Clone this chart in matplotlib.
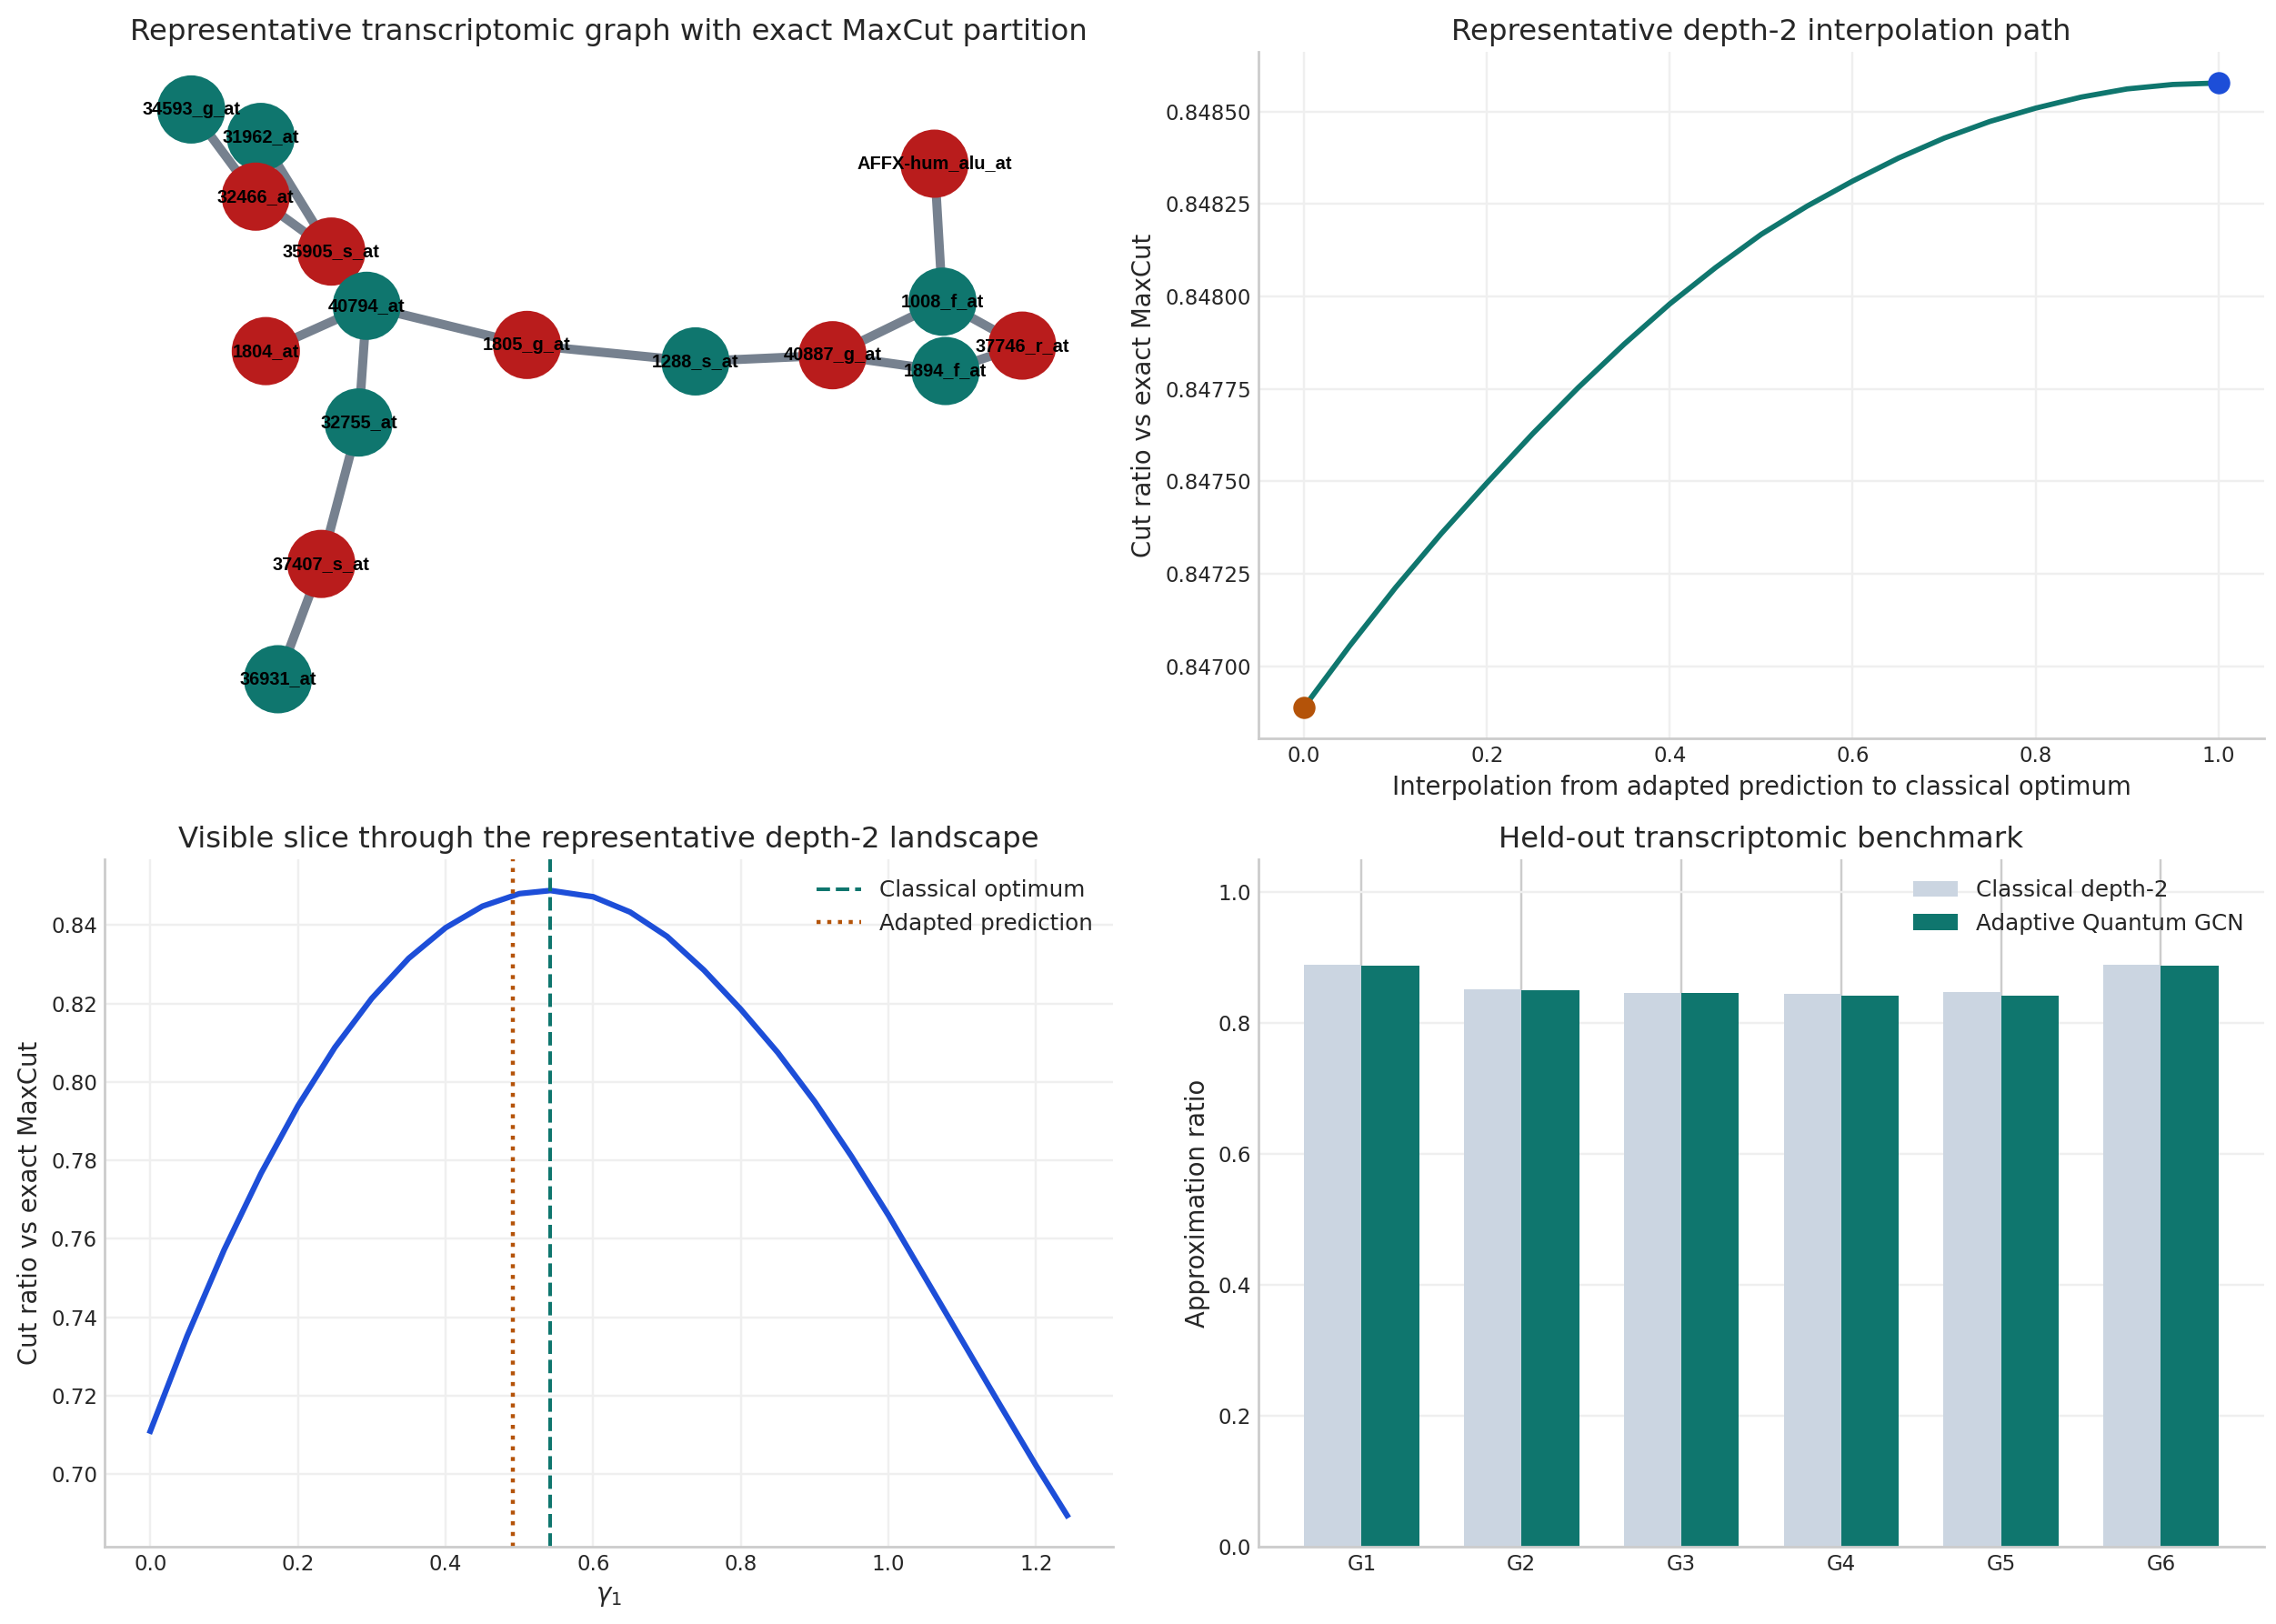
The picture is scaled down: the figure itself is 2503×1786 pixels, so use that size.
import matplotlib
matplotlib.use("Agg")
import matplotlib.pyplot as plt
from matplotlib.ticker import MultipleLocator, FormatStrFormatter

# --- data -------------------------------------------------------------
# graph: node -> (x, y) layout position, partition side
node_names = ["34593_g_at", "31962_at", "32466_at", "35905_s_at", "40794_at",
              "1804_at", "1805_g_at", "32755_at", "37407_s_at", "36931_at",
              "1288_s_at", "40887_g_at", "AFFX-hum_alu_at", "1008_f_at",
              "1894_f_at", "37746_r_at"]
node_x = [0.086, 0.155, 0.150, 0.225, 0.260, 0.160, 0.419, 0.252, 0.215, 0.172,
          0.586, 0.722, 0.823, 0.831, 0.834, 0.910]
node_y = [0.916, 0.876, 0.789, 0.709, 0.630, 0.564, 0.573, 0.460, 0.254, 0.086,
          0.549, 0.558, 0.837, 0.636, 0.535, 0.572]
node_side = [0, 0, 1, 1, 0, 1, 1, 0, 1, 0, 0, 1, 1, 0, 0, 1]
edges = [("34593_g_at", "32466_at"), ("31962_at", "35905_s_at"),
         ("32466_at", "35905_s_at"), ("35905_s_at", "40794_at"),
         ("40794_at", "1804_at"), ("40794_at", "1805_g_at"),
         ("40794_at", "32755_at"), ("32755_at", "37407_s_at"),
         ("37407_s_at", "36931_at"), ("1805_g_at", "1288_s_at"),
         ("1288_s_at", "40887_g_at"), ("40887_g_at", "1008_f_at"),
         ("40887_g_at", "1894_f_at"), ("1008_f_at", "AFFX-hum_alu_at"),
         ("1008_f_at", "37746_r_at"), ("1894_f_at", "37746_r_at")]

# interpolation path
interp_t = [0.0, 0.05, 0.1, 0.15, 0.2, 0.25, 0.3, 0.35, 0.4, 0.45, 0.5, 0.55,
            0.6, 0.65, 0.7, 0.75, 0.8, 0.85, 0.9, 0.95, 1.0]
interp_ratio = [0.846890, 0.847056, 0.847213, 0.847359, 0.847496, 0.847629,
                0.847754, 0.847871, 0.847980, 0.848078, 0.848168, 0.848244,
                0.848312, 0.848374, 0.848428, 0.848473, 0.848509, 0.848539,
                0.848561, 0.848573, 0.848577]

# landscape slice
gamma = [0.0, 0.05, 0.10, 0.15, 0.20, 0.25, 0.30, 0.35, 0.40, 0.45, 0.50, 0.542,
         0.60, 0.65, 0.70, 0.75, 0.80, 0.85, 0.90, 0.95, 1.00, 1.05, 1.10,
         1.15, 1.20, 1.242]
slice_ratio = [0.7110, 0.7353, 0.7572, 0.7767, 0.7939, 0.8088, 0.8213, 0.8315,
               0.8393, 0.8448, 0.8480, 0.8488, 0.8472, 0.8433, 0.8371, 0.8285,
               0.8185, 0.8075, 0.7950, 0.7810, 0.7660, 0.7500, 0.7340, 0.7180,
               0.7022, 0.6895]
gamma_classical = 0.542
gamma_adapted = 0.491

# benchmark
graphs = ["G1", "G2", "G3", "G4", "G5", "G6"]
classical = [0.889, 0.851, 0.846, 0.844, 0.847, 0.889]
adaptive = [0.888, 0.850, 0.846, 0.841, 0.841, 0.888]

TEAL = "#0f766e"
RED = "#b91c1c"
BLUE = "#1d4ed8"
ORANGE = "#b45309"
SLATE = "#cbd5e1"
EDGE = "#76818f"
GRID = "#efefef"

plt.rcParams.update({
    "font.family": "DejaVu Sans",
    "axes.edgecolor": "#cccccc",
    "axes.linewidth": 1.25,
    "axes.labelcolor": "#262626",
    "text.color": "#262626",
    "xtick.color": "#262626",
    "ytick.color": "#262626",
    "xtick.major.size": 0,
    "ytick.major.size": 0,
    "xtick.labelsize": 10.3,
    "ytick.labelsize": 10.3,
    "axes.labelsize": 12.4,
    "axes.titlesize": 14.6,
    "legend.fontsize": 11.1,
    "axes.spines.top": False,
    "axes.spines.right": False,
    "axes.axisbelow": True,
})

fig = plt.figure(figsize=(2503 / 160, 1786 / 160), dpi=160)
ax1 = fig.add_axes([0.0459, 0.5454, 0.4431, 0.4227])
ax2 = fig.add_axes([0.5529, 0.5454, 0.4419, 0.4227])
ax3 = fig.add_axes([0.0459, 0.0476, 0.4431, 0.4233])
ax4 = fig.add_axes([0.5529, 0.0476, 0.4419, 0.4233])

# --- graph ------------------------------------------------------------
pos = {n: (x, y) for n, x, y in zip(node_names, node_x, node_y)}
for a, b in edges:
    ax1.plot([pos[a][0], pos[b][0]], [pos[a][1], pos[b][1]],
             color=EDGE, lw=4.5, solid_capstyle="butt", zorder=1)
ax1.scatter(node_x, node_y, s=1140,
            c=[TEAL if s == 0 else RED for s in node_side], zorder=2, linewidths=0)
for n in node_names:
    ax1.text(pos[n][0], pos[n][1], n, ha="center", va="center", fontsize=9,
             fontweight="bold", family=["Liberation Sans", "DejaVu Sans"],
             color="black", zorder=3)
ax1.set_xlim(0, 1)
ax1.set_ylim(0, 1)
ax1.axis("off")
ax1.set_title("Representative transcriptomic graph with exact MaxCut partition")

# --- interpolation path ----------------------------------------------
ax2.grid(color=GRID, lw=1.1)
ax2.plot(interp_t, interp_ratio, color=TEAL, lw=2.6, zorder=2)
ax2.scatter([interp_t[0]], [interp_ratio[0]], s=100, color=ORANGE, zorder=3)
ax2.scatter([interp_t[-1]], [interp_ratio[-1]], s=100, color=BLUE, zorder=3)
ax2.yaxis.set_major_locator(MultipleLocator(0.00025))
ax2.yaxis.set_major_formatter(FormatStrFormatter("%.5f"))
ax2.set_xlabel("Interpolation from adapted prediction to classical optimum")
ax2.set_ylabel("Cut ratio vs exact MaxCut")
ax2.set_title("Representative depth-2 interpolation path")

# --- landscape slice --------------------------------------------------
ax3.grid(color=GRID, lw=1.1)
ax3.plot(gamma, slice_ratio, color=BLUE, lw=2.8)
ax3.axvline(gamma_classical, color=TEAL, ls="--", lw=1.8, label="Classical optimum")
ax3.axvline(gamma_adapted, color=ORANGE, ls=":", lw=2.0, label="Adapted prediction")
ax3.set_xlabel(r"$\gamma_1$")
ax3.set_ylabel("Cut ratio vs exact MaxCut")
ax3.set_title("Visible slice through the representative depth-2 landscape")
ax3.legend(loc="upper right", frameon=False)

# --- benchmark bars ---------------------------------------------------
x = list(range(len(graphs)))
w = 0.36
ax4.grid(axis="x", color="#cccccc", lw=1.1)
ax4.grid(axis="y", color=GRID, lw=1.1)
ax4.bar([i - w / 2 for i in x], classical, width=w, color=SLATE, label="Classical depth-2")
ax4.bar([i + w / 2 for i in x], adaptive, width=w, color=TEAL, label="Adaptive Quantum GCN")
ax4.set_xticks(x)
ax4.set_xticklabels(graphs)
ax4.set_ylim(0, 1.05)
ax4.set_ylabel("Approximation ratio")
ax4.set_title("Held-out transcriptomic benchmark")
ax4.legend(loc="upper right", frameon=False)

fig.savefig("out.png", dpi=160)
